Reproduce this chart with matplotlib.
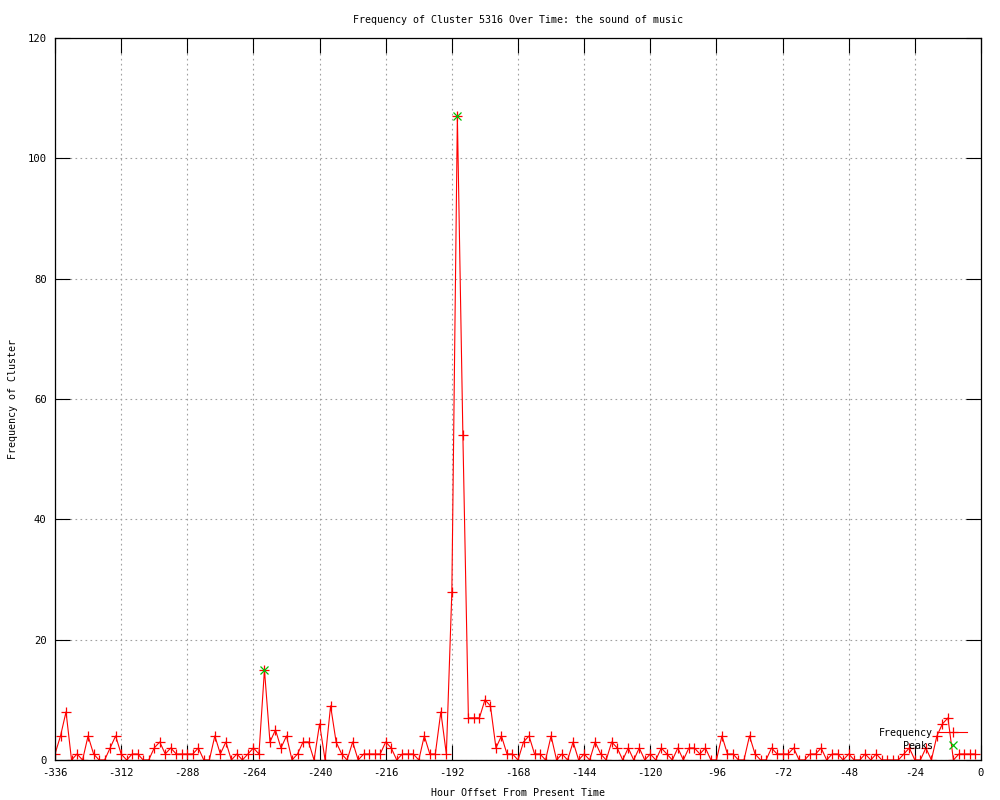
import matplotlib
matplotlib.use('Agg')
import matplotlib.pyplot as plt
import numpy as np

# hours before present, one sample every 2 hours
hours = list(range(-336, 0, 2))

freq = [1, 4, 8, 0, 1, 0, 4, 1, 0, 0,
        2, 4, 1, 0, 1, 1, 0, 0, 2, 3,
        1, 2, 1, 1, 1, 1, 2, 0, 0, 4,
        1, 3, 0, 1, 0, 1, 2, 1, 15, 3,
        5, 2, 4, 0, 1, 3, 3, 0, 6, 0,
        9, 3, 1, 0, 3, 0, 1, 1, 1, 1,
        3, 2, 0, 1, 1, 1, 0, 4, 1, 1,
        8, 1, 28, 107, 54, 7, 7, 7, 10, 9,
        2, 4, 1, 1, 0, 3, 4, 1, 1, 0,
        4, 0, 1, 0, 3, 0, 1, 0, 3, 1,
        0, 3, 2, 0, 2, 0, 2, 0, 1, 0,
        2, 1, 0, 2, 0, 2, 2, 1, 2, 0,
        0, 4, 1, 1, 0, 0, 4, 1, 0, 0,
        2, 1, 1, 1, 2, 0, 0, 1, 1, 2,
        0, 1, 1, 0, 1, 0, 0, 1, 0, 1,
        0, 0, 0, 0, 1, 2, 0, 0, 2, 0,
        4, 6, 7, 0, 1, 1, 1, 1]

peak_hours = [-260, -190]
peak_freq = [15, 107]

title = 'Frequency of Cluster 5316 Over Time: the sound of music'
xticks = list(range(-336, 1, 24))
yticks = list(range(0, 121, 20))

plt.rcParams['font.family'] = 'DejaVu Sans Mono'
plt.rcParams['font.size'] = 7.2
plt.rcParams['axes.unicode_minus'] = False

fig = plt.figure(figsize=(10, 8), dpi=100)
ax = fig.add_axes([0.055, 0.05, 0.926, 0.9025])

ax.plot(hours, freq, color='#ff0000', lw=0.8, marker='+', markersize=7,
        markeredgewidth=0.9, label='Frequency')
ax.plot(peak_hours, peak_freq, color='#00c000', lw=0, marker='x', markersize=6,
        markeredgewidth=0.9, label='Peaks')

ax.set_xlim(-336, 0)
ax.set_ylim(0, 120)
ax.set_xticks(xticks)
ax.set_yticks(yticks)
ax.tick_params(direction='in', length=11, width=0.8, top=True, right=True,
               pad=6, labelsize=7.6)
ax.grid(True, linestyle=(0, (1.5, 3)), color='#a0a0a0', lw=0.8)
for s in ax.spines.values():
    s.set_linewidth(0.9)

ax.set_title(title, fontsize=7.2, pad=11)
ax.set_xlabel('Hour Offset From Present Time', labelpad=7)
ax.set_ylabel('Frequency of Cluster')
ax.yaxis.set_label_coords(-0.04, 0.5)

ax.legend(loc='lower right', bbox_to_anchor=(0.99, 0.006), frameon=False,
          markerfirst=False, numpoints=1, handlelength=2.8, labelspacing=0.3,
          borderpad=0, handletextpad=0.6)

fig.savefig('out.png', dpi=100)
